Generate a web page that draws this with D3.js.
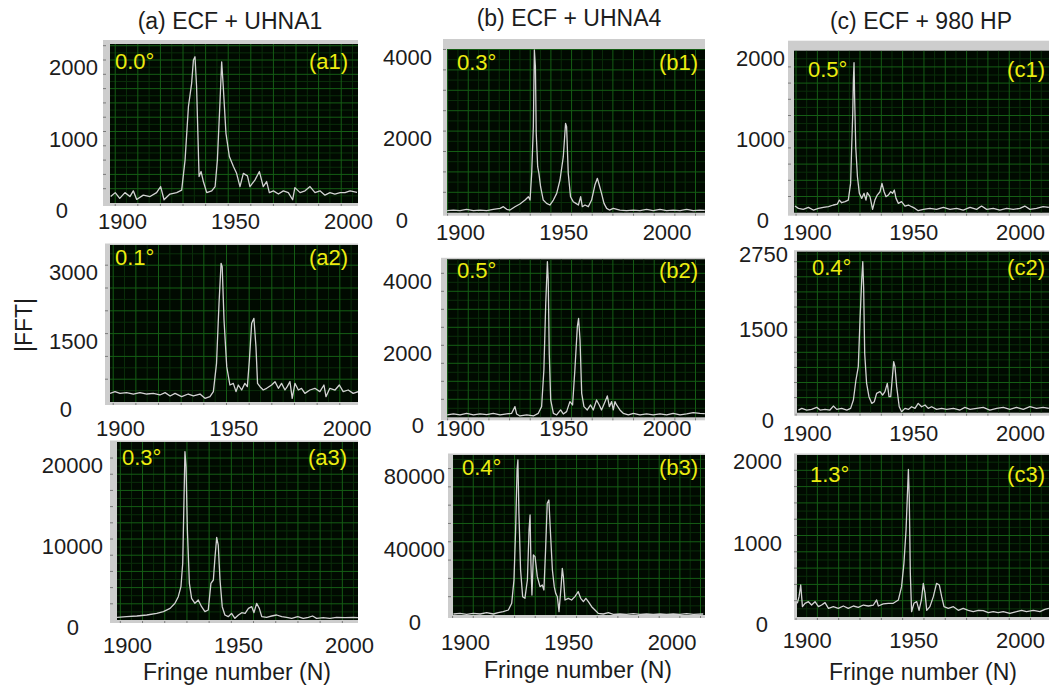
<!DOCTYPE html>
<html>
<head>
<meta charset="utf-8">
<script src="https://cdn.jsdelivr.net/npm/d3@7"></script>
<style>
body{margin:0;background:#fff}
svg{display:block}
</style>
</head>
<body>
<svg id="fig" width="1049" height="688"></svg>
<script>
// |FFT| traces, [fringe number, |FFT|]
var fftA1 = [[1895,90],[1897,145],[1899,65],[1901.3,145],[1903.5,90],[1905,170],[1906.5,50],[1909.4,110],[1912.4,90],[1915.3,145],[1917.1,230],[1918.6,45],[1921.2,125],[1924.2,145],[1926.4,180],[1927.9,600],[1929.4,1350],[1930.8,1670],[1931.6,2000],[1932.3,2045],[1933,1630],[1934.1,370],[1935,440],[1936,300],[1937.5,145],[1939.7,170],[1941.2,230],[1942.2,600],[1943.4,1440],[1944.1,1975],[1944.8,1630],[1946,975],[1947.5,650],[1949.3,510],[1950.7,415],[1952.2,230],[1953.7,415],[1955.5,380],[1956.6,230],[1958.8,320],[1960.8,440],[1962.5,230],[1964,300],[1965.2,145],[1967,170],[1969.2,125],[1971.4,170],[1973.6,145],[1975.5,45],[1976.5,215],[1978.8,145],[1981,170],[1983.2,230],[1985.4,145],[1987.6,170],[1989.8,110],[1992,145],[1994.2,125],[1996.5,145],[1998.7,145],[2000.9,170],[2004,150]];
var fftA2 = [[1895.6,190],[1897.8,227],[1900,190],[1902.9,205],[1905.9,175],[1908.8,205],[1911.8,175],[1914.7,190],[1917.6,154],[1919.9,205],[1922.1,132],[1924.3,190],[1927.2,117],[1930.1,175],[1932.4,132],[1935.3,175],[1937.5,80],[1939.7,117],[1941.2,227],[1942.6,848],[1943.7,2164],[1944.6,3041],[1945.1,2968],[1945.9,1798],[1947.1,775],[1948.5,373],[1950,409],[1951.2,227],[1952.2,373],[1953.7,263],[1955.1,409],[1956.2,336],[1957.1,921],[1958.1,1725],[1959.1,1835],[1960,1213],[1960.7,409],[1961.8,336],[1963.2,263],[1964.7,300],[1966.9,373],[1968.4,446],[1969.9,300],[1971.3,409],[1972.8,263],[1973.8,336],[1975,446],[1976,80],[1977.2,409],[1978.7,263],[1980.1,300],[1981.6,190],[1983.8,263],[1986,300],[1988.2,227],[1990,373],[1990.9,117],[1992.6,300],[1994.9,263],[1996.8,373],[1998.5,227],[2000.7,263],[2002.9,190],[2005.1,227]];
var fftA3 = [[1895.3,330],[1899.8,410],[1904.4,494],[1908.9,617],[1913.4,823],[1916.4,1030],[1919.4,1440],[1921.6,2060],[1923.1,2880],[1924.3,4115],[1925.1,7000],[1925.7,15225],[1926.1,20780],[1926.6,18930],[1927.2,11110],[1928.1,4525],[1929.1,2675],[1930.6,2060],[1932.1,2470],[1933.6,1645],[1935.1,1030],[1936.6,1235],[1937.8,4525],[1938.9,4940],[1939.6,7610],[1940.4,10205],[1941.1,9260],[1941.9,4940],[1942.9,1645],[1944.1,617],[1945.6,410],[1947.1,823],[1948.6,205],[1950.2,617],[1951.7,905],[1953.2,823],[1954.7,1440],[1956.2,1645],[1957.2,905],[1958.4,2060],[1959.6,1440],[1960.7,410],[1962.9,330],[1965.2,494],[1967.4,617],[1969.7,410],[1971.9,330],[1974.2,205],[1976.9,410],[1979.4,205],[1981.7,330],[1983.6,494],[1985.4,205],[1988.4,288],[1991.4,205],[1994.4,330],[1998.2,288],[2002,330],[2004.2,288]];
var fftB1 = [[1893.8,49],[1896.8,65],[1900,49],[1903.2,82],[1906.5,49],[1909.7,65],[1912.9,49],[1916.1,82],[1919.4,106],[1921,147],[1922.6,82],[1924.2,65],[1926.6,147],[1929,212],[1931.5,310],[1933.1,392],[1933.9,310],[1934.7,964],[1935.5,2108],[1936,3987],[1936.5,3578],[1936.9,1944],[1937.6,1127],[1938.2,964],[1939,637],[1940.3,310],[1941.9,229],[1943.5,188],[1945.2,310],[1946.8,474],[1948.4,801],[1950,1373],[1951.1,2190],[1951.6,2108],[1952.4,964],[1953.5,392],[1954.8,270],[1956.1,229],[1957.3,188],[1958.4,392],[1959.2,147],[1960.5,188],[1962.1,147],[1963.7,310],[1965.3,678],[1966.5,842],[1967.4,678],[1968.5,474],[1969.7,229],[1971,106],[1972.3,65],[1974.2,106],[1977.4,65],[1980.6,49],[1983.9,65],[1987.1,49],[1990.3,82],[1993.5,49],[1996.8,82],[2000,49],[2003.2,65],[2006.5,49],[2009.7,82],[2012.9,49],[2016.1,65],[2018.5,55]];
var fftB2 = [[1893.8,65],[1896.8,93],[1900,65],[1903.2,111],[1906.5,65],[1909.7,93],[1912.9,74],[1916.1,111],[1919.4,65],[1922.6,93],[1925,111],[1926.6,296],[1927.4,93],[1929,37],[1932.3,65],[1935.5,37],[1937.9,111],[1939.5,296],[1940.6,1315],[1941.5,3167],[1942.3,4324],[1942.7,3815],[1943.2,1778],[1943.9,481],[1945.2,111],[1946.8,65],[1948.7,204],[1950,93],[1951.6,157],[1953.2,435],[1954.5,343],[1955.6,1315],[1956.8,2519],[1957.4,2750],[1958.1,2148],[1958.9,667],[1960,296],[1961.6,204],[1963.2,343],[1964.5,204],[1966.1,481],[1967.4,343],[1968.5,204],[1970.2,435],[1971.3,593],[1972.3,296],[1973.4,435],[1974.2,204],[1975,435],[1975.8,343],[1977.4,204],[1979,111],[1981.5,65],[1983.9,111],[1987.1,65],[1990.3,93],[1993.5,65],[1996.8,93],[2000,65],[2003.2,111],[2006.5,65],[2009.7,93],[2012.9,130],[2016.1,111],[2018.5,100]];
var fftB3 = [[1894.4,546],[1897.6,910],[1900.8,364],[1904,910],[1907.3,546],[1910.5,1275],[1913.7,546],[1916.1,1275],[1918.5,1821],[1921,2731],[1922.6,6373],[1923.7,19120],[1924.5,46435],[1925.2,79213],[1925.6,84676],[1926.1,55540],[1926.9,24583],[1927.9,10015],[1929,9105],[1930.2,19120],[1931,46435],[1931.5,54630],[1931.9,28225],[1932.4,10926],[1933.1,32780],[1933.9,31870],[1935,20940],[1936.3,15480],[1937.4,16390],[1938.2,13660],[1939,35510],[1939.8,61000],[1940.6,62825],[1941.3,46435],[1942.3,24583],[1943.2,15480],[1943.9,11840],[1944.7,10015],[1945.5,1821],[1946.5,15480],[1947.1,25495],[1947.6,20940],[1948.4,8195],[1950,9105],[1951.6,8195],[1953.2,10015],[1954.8,12750],[1956,9105],[1957.3,7285],[1958.5,9105],[1959.7,7285],[1961.3,4550],[1962.9,2731],[1964.5,910],[1966.9,546],[1969.4,1275],[1971.8,364],[1975,546],[1978.2,364],[1981.5,728],[1984.7,364],[1987.9,546],[1991.1,364],[1994.4,546],[1997.6,364],[2000.8,546],[2004,364],[2007.3,728],[2010.5,364],[2015.3,546]];
var fftC1 = [[1894.5,82],[1896.1,53],[1898.4,41],[1900.8,66],[1903.1,33],[1905.5,53],[1907.8,66],[1910.2,74],[1912.5,95],[1914.4,107],[1915.3,156],[1916.4,123],[1918,136],[1919.5,156],[1920.6,362],[1921.1,815],[1921.6,1226],[1921.9,1638],[1922.2,1852],[1922.5,1391],[1923,815],[1923.8,444],[1924.7,239],[1925.8,177],[1926.9,239],[1927.8,156],[1928.4,247],[1929.7,198],[1930.9,41],[1932,156],[1933.1,218],[1934.4,259],[1935.3,362],[1936.3,259],[1937.2,198],[1938.3,218],[1939.4,259],[1940.3,239],[1941.1,280],[1941.9,177],[1943,115],[1944.5,136],[1946.1,82],[1947.7,95],[1949.2,74],[1950.8,53],[1952.3,25],[1954.7,41],[1957.8,53],[1960.9,41],[1964.1,66],[1967.2,41],[1970.3,53],[1973.4,33],[1976.6,66],[1979.7,41],[1982,82],[1984.4,41],[1987.5,53],[1990.6,33],[1993.8,53],[1996.9,41],[2000,53],[2002.3,82],[2004.7,41],[2007.8,53],[2010.9,74],[2013.6,66]];
var fftC2 = [[1896.1,44],[1897.7,72],[1900,44],[1902.3,55],[1904.7,88],[1906.3,44],[1908.6,55],[1910.9,44],[1912.5,110],[1914.1,55],[1916.4,72],[1918.8,44],[1920.6,72],[1921.9,210],[1923.1,541],[1924.2,762],[1925,1535],[1925.8,2197],[1926.3,2500],[1926.7,2087],[1927.2,983],[1928.1,486],[1929.2,265],[1930.5,155],[1931.7,182],[1932.8,320],[1934.4,348],[1935.6,293],[1936.7,348],[1937.8,486],[1938.6,265],[1939.4,265],[1940.2,596],[1940.8,845],[1941.4,762],[1942.2,431],[1943.4,99],[1944.5,17],[1946.1,72],[1947.7,55],[1949.2,99],[1950.8,72],[1952.3,155],[1953.9,99],[1955.5,127],[1957,72],[1958.6,99],[1960.9,55],[1963.3,72],[1965.6,55],[1968.8,72],[1971.9,44],[1974.2,88],[1976.6,55],[1979.7,72],[1982.8,88],[1985.9,44],[1989.1,72],[1992.2,88],[1995.3,55],[1998.4,88],[2001.6,55],[2004.7,99],[2007.8,72],[2010.9,88],[2013.6,72]];
var fftC3 = [[1895.6,168],[1896.4,250],[1897.2,393],[1898,127],[1899.2,168],[1900.8,188],[1902.3,147],[1903.9,188],[1905.5,127],[1907,147],[1908.6,176],[1910.2,106],[1912.5,127],[1914.8,106],[1917.2,135],[1919.5,106],[1921.9,135],[1924.2,119],[1926.6,147],[1928.9,135],[1931.3,147],[1932.8,209],[1933.6,135],[1935.9,160],[1938.3,168],[1940.6,168],[1943,209],[1944.5,372],[1945.6,658],[1946.6,1067],[1947.2,1476],[1947.7,1812],[1948.1,1476],[1948.6,536],[1949.2,65],[1950.3,168],[1951.6,188],[1952.7,82],[1953.8,209],[1954.7,413],[1955.5,290],[1956.3,82],[1957.8,127],[1959.4,250],[1960.9,413],[1962.2,393],[1963.3,250],[1964.4,127],[1966.4,106],[1968.8,127],[1971.1,82],[1973.4,106],[1975.8,82],[1978.1,65],[1980.5,82],[1982.8,78],[1985.2,53],[1987.5,65],[1989.8,53],[1992.2,65],[1995.3,45],[1998.4,65],[2000.8,82],[2003.1,65],[2006.3,82],[2009.4,65],[2011.7,94],[2013.6,106]];

var xTickValues = [1900, 1950, 2000];
var yTicksA1 = [0, 1000, 2000];
var yTicksA2 = [0, 1500, 3000];
var yTicksA3 = [0, 10000, 20000];
var yTicksB1 = [0, 2000, 4000];
var yTicksB2 = [0, 2000, 4000];
var yTicksB3 = [0, 40000, 80000];
var yTicksC1 = [0, 1000, 2000];
var yTicksC2 = [0, 1500, 2750];
var yTicksC3 = [0, 1000, 2000];

var columnTitles = ["(a) ECF + UHNA1", "(b) ECF + UHNA4", "(c) ECF + 980 HP"];
var angleLabels = ["0.0°", "0.1°", "0.3°", "0.3°", "0.5°", "0.4°", "0.5°", "0.4°", "1.3°"];
var panelIds = ["(a1)", "(a2)", "(a3)", "(b1)", "(b2)", "(b3)", "(c1)", "(c2)", "(c3)"];

var FONT = "'Liberation Sans', Arial, Helvetica, sans-serif";
var svg = d3.select("#fig");

// layout of each screenshot panel (pixels) and scale calibration
var panels = [
  {data: fftA1, ticks: yTicksA1, L:110, R:358, T:44,    B:203,   x0:122,   x1:235,   yMax:2224,  yStep:200,   gx:1897, top:4,   strip:7, xLabY:221, yLabR:98,  zero:30, angDx:5,  idDx:10, lab:25},
  {data: fftA2, ticks: yTicksA2, L:110, R:358, T:245,   B:402,   x0:120,   x1:233.3, yMax:3443,  yStep:500,   gx:1897, top:1.5, strip:5, xLabY:428, yLabR:98,  zero:26, angDx:5,  idDx:10, lab:20},
  {data: fftA3, ticks: yTicksA3, L:117, R:358, T:442,   B:620,   x0:127,   x1:238,   yMax:21980, yStep:2000,  gx:1897, top:1.5, strip:7, xLabY:645, yLabR:103, zero:24, angDx:5,  idDx:11, lab:23},
  {data: fftB1, ticks: yTicksB1, L:447, R:705, T:49,    B:212.7, x0:460,   x1:563.3, yMax:4012,  yStep:500,   gx:1894, top:10,  strip:4, xLabY:232, yLabR:432, zero:24, angDx:10, idDx:7,  lab:21},
  {data: fftB2, ticks: yTicksB2, L:447, R:705, T:259.3, B:417.3, x0:460,   x1:563.3, yMax:4389,  yStep:500,   gx:1894, top:1.5, strip:6, xLabY:428, yLabR:432, zero:8,  angDx:10, idDx:7,  lab:19},
  {data: fftB3, ticks: yTicksB3, L:453, R:705, T:455,   B:615,   x0:465,   x1:568.3, yMax:87400, yStep:10000, gx:1894, top:1.5, strip:5, xLabY:642, yLabR:445, zero:24, angDx:9,  idDx:7,  lab:20},
  {data: fftC1, ticks: yTicksC1, L:794, R:1049,T:50.7,  B:212.7, x0:806.7, x1:913.3, yMax:2000,  yStep:200,   gx:1895, top:10,  strip:6, xLabY:232, yLabR:785, zero:16, angDx:14, idDx:4,  lab:26},
  {data: fftC2, ticks: yTicksC2, L:797, R:1049,T:251.7, B:412.7, x0:806.7, x1:913.3, yMax:2666,  yStep:250,   gx:1895, top:1.5, strip:3, xLabY:433, yLabR:788, zero:14, angDx:15, idDx:4,  lab:23},
  {data: fftC3, ticks: yTicksC3, L:797, R:1049,T:455,   B:617,   x0:806.7, x1:913.3, yMax:1988,  yStep:200,   gx:1895, top:1.5, strip:3, xLabY:640, yLabR:782, zero:14, angDx:13, idDx:4,  lab:27}
];

panels.forEach(function(p, i) {
  var x = d3.scaleLinear().domain([1900, 1950]).range([p.x0, p.x1]);
  var y = d3.scaleLinear().domain([0, p.yMax]).range([p.B, p.T]);
  var g = svg.append("g");

  // gray frame of the instrument window
  g.append("rect")
    .attr("x", p.L - p.strip).attr("y", p.T - p.top)
    .attr("width", p.R - p.L + p.strip).attr("height", p.B - p.T + p.top + 3)
    .attr("fill", "#cdcdcd");
  g.append("rect")
    .attr("x", p.L).attr("y", p.T)
    .attr("width", p.R - p.L).attr("height", p.B - p.T)
    .attr("fill", "#010a01");

  var cid = "clip" + i;
  svg.append("clipPath").attr("id", cid).append("rect")
    .attr("x", p.L).attr("y", p.T).attr("width", p.R - p.L).attr("height", p.B - p.T);
  var inner = g.append("g").attr("clip-path", "url(#" + cid + ")");

  var xEnd = x.invert(p.R);
  var vMajor = d3.range(p.gx, xEnd, 10);
  var vMinor = d3.range(p.gx - 5, xEnd, 10);
  var hMajor = d3.range(p.yStep, p.yMax, p.yStep);
  var hMinor = d3.range(p.yStep / 2, p.yMax, p.yStep);

  inner.selectAll(".vmin").data(vMinor).enter().append("line")
    .attr("x1", function(d){return x(d);}).attr("x2", function(d){return x(d);})
    .attr("y1", p.T).attr("y2", p.B)
    .attr("stroke", "#0a2e0a").attr("stroke-width", 1);
  inner.selectAll(".hmin").data(hMinor).enter().append("line")
    .attr("x1", p.L).attr("x2", p.R)
    .attr("y1", function(d){return y(d);}).attr("y2", function(d){return y(d);})
    .attr("stroke", "#0a2e0a").attr("stroke-width", 1);
  inner.selectAll(".vmaj").data(vMajor).enter().append("line")
    .attr("x1", function(d){return x(d);}).attr("x2", function(d){return x(d);})
    .attr("y1", p.T).attr("y2", p.B)
    .attr("stroke", "#155e15").attr("stroke-width", 1);
  inner.selectAll(".hmaj").data(hMajor).enter().append("line")
    .attr("x1", p.L).attr("x2", p.R)
    .attr("y1", function(d){return y(d);}).attr("y2", function(d){return y(d);})
    .attr("stroke", "#155e15").attr("stroke-width", 1);

  // little ticks on the gray strips
  g.selectAll(".lt").data(hMajor).enter().append("line")
    .attr("x1", p.L - p.strip).attr("x2", p.L - p.strip + 3)
    .attr("y1", function(d){return y(d);}).attr("y2", function(d){return y(d);})
    .attr("stroke", "#7a7a7a").attr("stroke-width", 1);
  g.selectAll(".bt").data(vMajor).enter().append("line")
    .attr("x1", function(d){return x(d);}).attr("x2", function(d){return x(d);})
    .attr("y1", p.B + 1).attr("y2", p.B + 3)
    .attr("stroke", "#7a7a7a").attr("stroke-width", 1);

  var line = d3.line()
    .x(function(d){return x(d[0]);})
    .y(function(d){return y(d[1]);});
  inner.append("path").datum(p.data)
    .attr("d", line)
    .attr("fill", "none")
    .attr("stroke", "#d2d2d2")
    .attr("stroke-width", 1.3)
    .attr("stroke-linejoin", "round");

  // yellow annotations
  g.append("text")
    .attr("x", p.L + p.angDx).attr("y", p.T + p.lab)
    .attr("font-family", FONT).attr("font-size", 22).attr("fill", "#ecec10")
    .text(angleLabels[i]);
  g.append("text")
    .attr("x", p.R - p.idDx).attr("y", p.T + p.lab)
    .attr("text-anchor", "end")
    .attr("font-family", FONT).attr("font-size", 22).attr("fill", "#ecec10")
    .text(panelIds[i]);

  // axes labels
  var ya = g.append("g")
    .attr("transform", "translate(" + p.yLabR + ",0)")
    .call(d3.axisLeft(y).tickValues(p.ticks).tickSize(0).tickPadding(0).tickFormat(d3.format("d")));
  ya.select(".domain").remove();
  ya.attr("font-size", 22).attr("font-family", FONT).attr("color", "#1c1c1c");
  ya.selectAll("text").attr("dy", "0.35em").attr("y", 7);
  ya.selectAll(".tick").filter(function(d){return d === 0;}).select("text").attr("x", -p.zero);

  var xa = g.append("g")
    .attr("transform", "translate(0," + p.xLabY + ")")
    .call(d3.axisBottom(x).tickValues(xTickValues).tickSize(0).tickPadding(0).tickFormat(d3.format("d")));
  xa.select(".domain").remove();
  xa.attr("font-size", 22).attr("font-family", FONT).attr("color", "#1c1c1c");
  xa.selectAll("text").attr("dy", "0.35em").attr("y", 0);
});

// column titles and axis titles
var titleX = [230, 569, 921];
var titleY = [29, 26, 29];
svg.selectAll(".ctitle").data(columnTitles).enter().append("text")
  .attr("x", function(d, i){return titleX[i];})
  .attr("y", function(d, i){return titleY[i];})
  .attr("text-anchor", "middle")
  .attr("font-family", FONT).attr("font-size", 23).attr("fill", "#1c1c1c")
  .text(function(d){return d;});

var fringeX = [237, 578, 923];
var fringeY = [680, 678, 680];
fringeX.forEach(function(fx, i) {
  svg.append("text")
    .attr("x", fx).attr("y", fringeY[i])
    .attr("text-anchor", "middle")
    .attr("font-family", FONT).attr("font-size", 23).attr("fill", "#1c1c1c")
    .text("Fringe number (N)");
});

svg.append("text")
  .attr("transform", "translate(32,325) rotate(-90)")
  .attr("text-anchor", "middle")
  .attr("font-family", FONT).attr("font-size", 23).attr("fill", "#1c1c1c")
  .text("|FFT|");
</script>
</body>
</html>
